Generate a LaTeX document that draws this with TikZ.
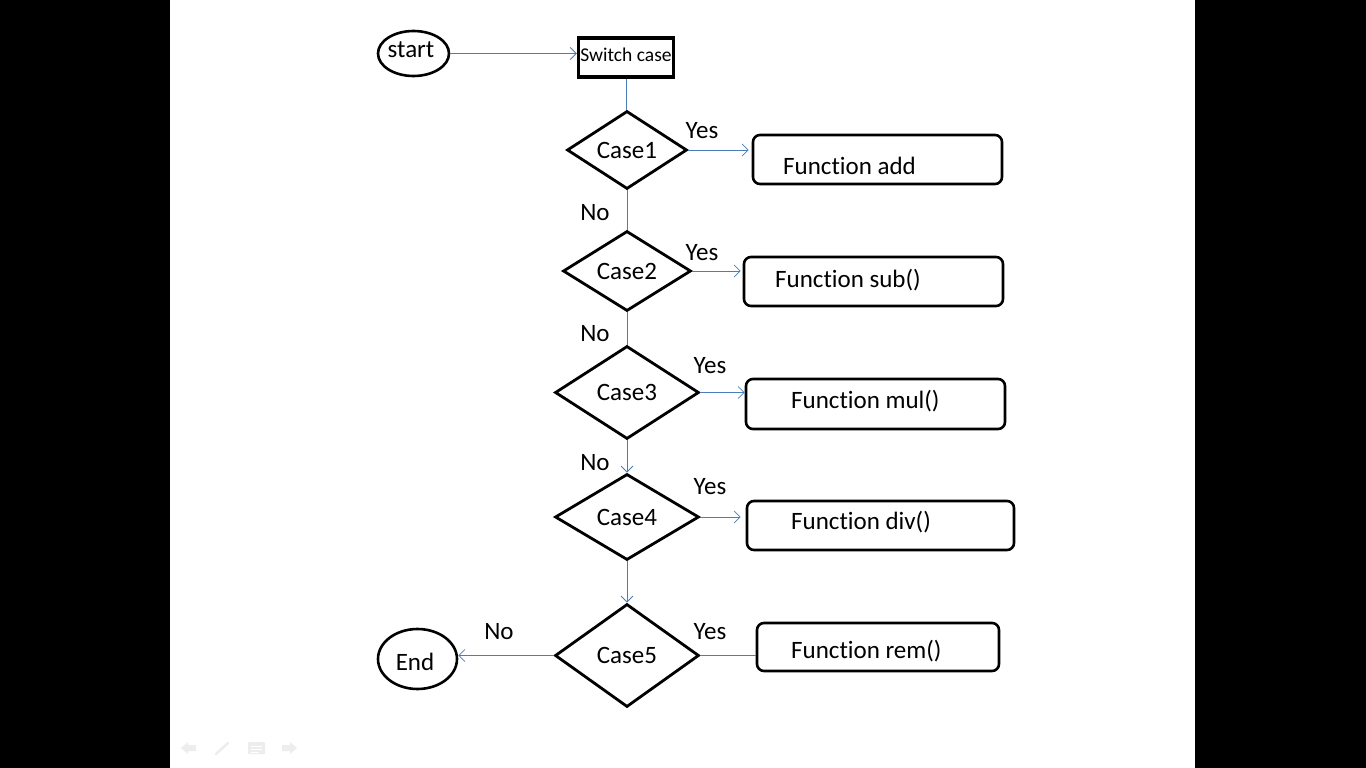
\documentclass[tikz,border=0pt]{standalone}
\usepackage{fontspec}
\setmainfont[Ligatures={NoCommon,NoContextual}]{Carlito}
\usetikzlibrary{shapes.geometric,arrows.meta}
\definecolor{linkblue}{HTML}{4A7EBB}
\definecolor{navgray}{HTML}{EDEDED}
\begin{document}
\begin{tikzpicture}[x=1pt,y=-1pt,
  conn/.style={draw=linkblue, line width=0.9pt},
  arr/.style={conn,-{Straight Barb[length=6pt,width=12pt,line width=0.8pt]}},
  txt/.style={font=\fontsize{25}{29}\selectfont, inner sep=0pt, text height=16pt, text depth=0pt},
  dia/.style={diamond, draw, line width=2.8pt, inner sep=0pt, txt},
  ell/.style={ellipse, draw, line width=2.6pt, inner sep=0pt, txt},
  fbox/.style={draw, rounded corners=7pt, line width=2.6pt, inner sep=0pt},
  ftext/.style={txt, anchor=west},
  lab/.style={txt}]
\useasboundingbox (0,0) rectangle (1366,768);
\fill[black] (0,0) rectangle (170,768);
\fill[black] (1195,0) rectangle (1366,768);
\fill[white] (170,0) rectangle (1195,768);

% terminals
\node[ell, minimum width=71pt, minimum height=45pt] (start) at (413.5,53.5) {};
\node[txt] (starttext) at (411,50) {start};
\node[draw, line width=3.4pt, minimum width=95pt, minimum height=39pt, inner sep=0pt] (switch) at (626,57.5) {};
\node[inner sep=0pt, font=\fontsize{19.5}{22}\selectfont, text height=12.5pt, text depth=0pt] (switchtext) at (626,55) {Switch case};
\node[ell, minimum width=79pt, minimum height=60pt] (end) at (417.5,659) {};
\node[txt] (endtext) at (415,662) {End};

% decisions
\node[dia, minimum width=120pt, minimum height=78pt] (c1) at (627,150) {Case1};
\node[dia, minimum width=128pt, minimum height=80pt] (c2) at (627,271) {Case2};
\node[dia, minimum width=144pt, minimum height=93pt] (c3) at (627,392.5) {Case3};
\node[dia, minimum width=144pt, minimum height=86pt] (c4) at (627,517) {Case4};
\node[dia, minimum width=144pt, minimum height=103pt] (c5) at (627,655.5) {Case5};

% function boxes
\node[fbox, minimum width=249pt, minimum height=49pt] (fadd) at (877.5,159.5) {};
\node[fbox, minimum width=259pt, minimum height=49pt] (fsub) at (873.5,281.5) {};
\node[fbox, minimum width=259pt, minimum height=50pt] (fmul) at (875.5,404) {};
\node[fbox, minimum width=267pt, minimum height=49pt] (fdiv) at (880.5,525.5) {};
\node[fbox, minimum width=242pt, minimum height=48pt] (frem) at (878,647) {};
\node[ftext] (tadd) at (783,166) {Function add};
\node[ftext] (tsub) at (775,279) {Function sub()};
\node[ftext] (tmul) at (791,400) {Function mul()};
\node[ftext] (tdiv) at (791,521) {Function div()};
\node[ftext] (trem) at (791,650) {Function rem()};

% labels
\node[lab] (y1) at (702,131) {Yes};
\node[lab] (y2) at (702,252) {Yes};
\node[lab] (y3) at (710,365) {Yes};
\node[lab] (y4) at (710,486) {Yes};
\node[lab] (y5) at (710,631) {Yes};
\node[lab] (n1) at (595,212) {No};
\node[lab] (n2) at (595,333) {No};
\node[lab] (n3) at (595,462) {No};
\node[lab] (n5) at (499,631) {No};

% connectors
\draw[arr] (start.east) -- (start.east -| switch.west);
\draw[conn] (switch.south) -- (switch.south |- c1.north);
\draw[arr, shorten >=3pt] (c1.east) -- (c1.east -| fadd.west);
\draw[arr, shorten >=2pt] (c2.east) -- (c2.east -| fsub.west);
\draw[arr] (c3.east) -- (c3.east -| fmul.west);
\draw[arr, shorten >=5pt] (c4.east) -- (c4.east -| fdiv.west);
\draw[conn] (c5.east) -- (c5.east -| frem.west);
\draw[conn] (c1.south) -- (c2.north);
\draw[conn] (c2.south) -- (c3.north);
\draw[arr] (c3.south) -- (c4.north);
\draw[arr] (c4.south) -- (c5.north);
\draw[arr] (c5.west) -- (c5.west -| end.east);

% slideshow navigation icons (faint)
\fill[navgray] (181,748) -- (188,742) -- (188,745) -- (196,745) -- (196,751) -- (188,751) -- (188,754) -- cycle;
\draw[navgray, line width=2.5pt, line cap=round] (216,754) -- (228,743);
\fill[navgray, rounded corners=1pt] (248,742) rectangle (265,754);
\draw[white, line width=0.8pt] (251,746) -- (262,746) (251,749) -- (262,749) (251,752) -- (259,752);
\fill[navgray] (297,748) -- (290,742) -- (290,745) -- (282,745) -- (282,751) -- (290,751) -- (290,754) -- cycle;
\end{tikzpicture}
\end{document}
